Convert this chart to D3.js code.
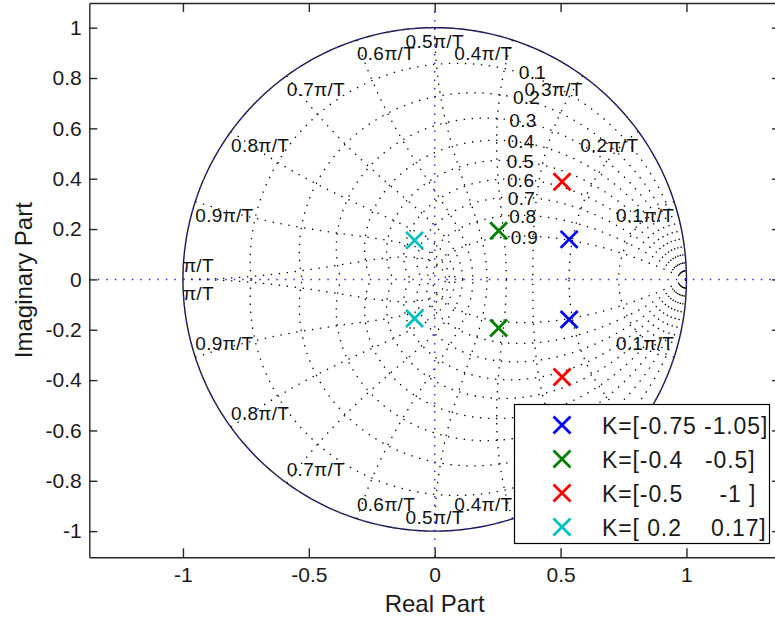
<!DOCTYPE html>
<html lang="en">
<head>
    <meta charset="UTF-8">
    <title>Root locus poles with zgrid</title>
    <script type="text/javascript" src="https://d3js.org/d3.v7.min.js"></script>
    <style>
        body { margin: 0; background: #fff; }
        svg { display: block; font-family: "Liberation Sans", Arial, sans-serif; }
        .lbl { white-space: pre; }
    </style>
</head>
<body>
    <div id="chart"></div>

    <script>
        // zgrid values
        const zetaValues = [0.1, 0.2, 0.3, 0.4, 0.5, 0.6, 0.7, 0.8, 0.9];
        const zetaLabels = ["0.1", "0.2", "0.3", "0.4", "0.5", "0.6", "0.7", "0.8", "0.9"];
        const wnFactors = [0.1, 0.2, 0.3, 0.4, 0.5, 0.6, 0.7, 0.8, 0.9, 1.0]; // times pi/T
        const wnLabels = ["0.1\u03c0/T", "0.2\u03c0/T", "0.3\u03c0/T", "0.4\u03c0/T", "0.5\u03c0/T",
                          "0.6\u03c0/T", "0.7\u03c0/T", "0.8\u03c0/T", "0.9\u03c0/T", "\u03c0/T"];

        // closed loop poles (conjugate pairs, re +/- j*im)
        const gainLabels = ["K=[-0.75 -1.05]", "K=[-0.4   -0.5]", "K=[-0.5     -1 ]", "K=[ 0.2    0.17]"];
        const poleColors = ["#0000ff", "#008000", "#ff0000", "#00bfbf"];
        const poleRe = [0.534, 0.254, 0.506, -0.080];
        const poleIm = [0.159, 0.193, 0.388, 0.155];

        const xTicks = [-1, -0.5, 0, 0.5, 1];
        const yTicks = [-1, -0.8, -0.6, -0.4, -0.2, 0, 0.2, 0.4, 0.6, 0.8, 1];

        const svgWidth = 775;
        const svgHeight = 625;
        const plotLeft = 89.3, plotRight = 780.1, plotTop = 3, plotBottom = 557.3;

        const svg = d3.select("#chart")
            .append("svg")
            .attr("width", svgWidth)
            .attr("height", svgHeight);

        const x = d3.scaleLinear().domain([-1.372, 1.372]).range([plotLeft, plotRight]);
        const y = d3.scaleLinear().domain([-1.104, 1.098]).range([plotBottom, plotTop]);

        svg.append("clipPath").attr("id", "plotArea")
            .append("rect")
            .attr("x", plotLeft).attr("y", plotTop)
            .attr("width", plotRight - plotLeft).attr("height", plotBottom - plotTop);

        const plot = svg.append("g").attr("clip-path", "url(#plotArea)");

        const line = d3.line().x(d => x(d[0])).y(d => y(d[1]));
        const dotted = "1.4,6.6";

        // damping ratio curves z = exp(-m*wd) * exp(j*wd)
        zetaValues.forEach(function(z) {
            const m = z / Math.sqrt(1 - z * z);
            [1, -1].forEach(function(s) {
                const pts = d3.range(0, 241).map(function(i) {
                    const wd = Math.PI * i / 240;
                    const r = Math.exp(-m * wd);
                    return [r * Math.cos(wd), s * r * Math.sin(wd)];
                });
                plot.append("path")
                    .attr("d", line(pts))
                    .attr("fill", "none")
                    .attr("stroke", "#000")
                    .attr("stroke-width", 1.3)
                    .attr("stroke-dasharray", dotted);
            });
        });

        // natural frequency curves
        wnFactors.forEach(function(f) {
            const wn = f * Math.PI;
            [1, -1].forEach(function(s) {
                const pts = d3.range(0, 121).map(function(i) {
                    const z = i / 120;
                    const r = Math.exp(-z * wn);
                    const a = wn * Math.sqrt(1 - z * z);
                    return [r * Math.cos(a), s * r * Math.sin(a)];
                });
                plot.append("path")
                    .attr("d", line(pts))
                    .attr("fill", "none")
                    .attr("stroke", "#000")
                    .attr("stroke-width", 1.3)
                    .attr("stroke-dasharray", dotted);
            });
        });

        // unit circle: solid from zgrid, blue dotted from pzmap on top
        const circlePts = d3.range(0, 361).map(i => [Math.cos(i * Math.PI / 180), Math.sin(i * Math.PI / 180)]);
        plot.append("path")
            .attr("d", line(circlePts))
            .attr("fill", "none")
            .attr("stroke", "#1a1a33")
            .attr("stroke-width", 1.4);
        plot.append("path")
            .attr("d", line(circlePts))
            .attr("fill", "none")
            .attr("stroke", "#3a3aff")
            .attr("stroke-width", 1.4)
            .attr("stroke-dasharray", dotted);

        // real / imaginary axes
        plot.append("line")
            .attr("x1", plotLeft).attr("x2", plotRight)
            .attr("y1", y(0)).attr("y2", y(0))
            .attr("stroke", "#2b2bff").attr("stroke-width", 1.5)
            .attr("stroke-dasharray", "1.5,7");
        plot.append("line")
            .attr("x1", x(0)).attr("x2", x(0))
            .attr("y1", plotTop).attr("y2", plotBottom)
            .attr("stroke", "#2b2bff").attr("stroke-width", 1.5)
            .attr("stroke-dasharray", "1.5,7");

        // wn labels on the unit circle
        const labelG = svg.append("g").attr("font-size", "19px").attr("fill", "#111")
            .attr("letter-spacing", "0.3px");
        wnFactors.forEach(function(f, i) {
            const a = f * Math.PI;
            [1, -1].forEach(function(s) {
                const px = x(Math.cos(a));
                const py = y(s * Math.sin(a));
                labelG.append("text")
                    .attr("class", "lbl")
                    .attr("x", px)
                    .attr("y", py + (s > 0 ? 20.5 : -7.5))
                    .attr("text-anchor", f < 0.5 ? "end" : (f === 0.5 ? "middle" : "start"))
                    .text(wnLabels[i]);
            });
        });

        // damping labels, upper half only
        zetaValues.forEach(function(z, i) {
            const wn = 1.2;
            const wd = wn * Math.sqrt(1 - z * z);
            const r = Math.exp(-z * wn);
            labelG.append("text")
                .attr("x", x(r * Math.cos(wd)) + 2)
                .attr("y", y(r * Math.sin(wd)) + 7.5)
                .text(zetaLabels[i]);
        });

        // poles
        const cross = "M-8.5,-8.5L8.5,8.5M-8.5,8.5L8.5,-8.5";
        const poles = [];
        poleRe.forEach(function(re, i) {
            poles.push({ re: re, im: poleIm[i], c: poleColors[i] });
            poles.push({ re: re, im: -poleIm[i], c: poleColors[i] });
        });
        svg.append("g").selectAll("path")
            .data(poles)
            .enter()
            .append("path")
            .attr("d", cross)
            .attr("transform", d => "translate(" + x(d.re) + "," + y(d.im) + ")")
            .attr("fill", "none")
            .attr("stroke", d => d.c)
            .attr("stroke-width", 2.8);

        // axes box with inward ticks
        const fmt = d => String(+d.toFixed(1));
        const axisFont = function(g, size) {
            g.attr("font-family", null).attr("font-size", size);
            g.selectAll("path.domain").attr("stroke", "#262626").attr("stroke-width", 1.4);
            g.selectAll(".tick line").attr("stroke", "#262626").attr("stroke-width", 1.4);
            g.selectAll("text").attr("fill", "#1a1a1a");
        };

        svg.append("g")
            .attr("transform", "translate(0," + plotBottom + ")")
            .call(d3.axisBottom(x).tickValues(xTicks).tickFormat(fmt).tickSizeInner(-9).tickSizeOuter(0).tickPadding(10))
            .call(g => axisFont(g, "21px"));
        svg.append("g")
            .attr("transform", "translate(0," + plotTop + ")")
            .call(d3.axisTop(x).tickValues(xTicks).tickFormat("").tickSizeInner(-9).tickSizeOuter(0))
            .call(g => axisFont(g, "21px"));
        svg.append("g")
            .attr("transform", "translate(" + plotLeft + ",0)")
            .call(d3.axisLeft(y).tickValues(yTicks).tickFormat(fmt).tickSizeInner(-8).tickSizeOuter(0).tickPadding(7.6))
            .call(g => axisFont(g, "21px"));
        svg.append("g")
            .attr("transform", "translate(" + plotRight + ",0)")
            .call(d3.axisRight(y).tickValues(yTicks).tickFormat("").tickSizeInner(-8).tickSizeOuter(0))
            .call(g => axisFont(g, "21px"));

        // axis titles
        svg.append("text")
            .attr("x", x(0))
            .attr("y", 612)
            .attr("text-anchor", "middle")
            .attr("font-size", "24px")
            .attr("fill", "#1a1a1a")
            .text("Real Part");
        svg.append("text")
            .attr("transform", "translate(32," + ((plotTop + plotBottom) / 2) + ") rotate(-90)")
            .attr("text-anchor", "middle")
            .attr("font-size", "24px")
            .attr("fill", "#1a1a1a")
            .text("Imaginary Part");

        // legend
        const legend = svg.append("g");
        legend.append("rect")
            .attr("x", 514.5).attr("y", 404.5)
            .attr("width", 255).attr("height", 139)
            .attr("fill", "#fff")
            .attr("stroke", "#000")
            .attr("stroke-width", 1.2);
        gainLabels.forEach(function(label, i) {
            const cy = 425 + i * 34;
            legend.append("path")
                .attr("d", cross)
                .attr("transform", "translate(562," + cy + ")")
                .attr("fill", "none")
                .attr("stroke", poleColors[i])
                .attr("stroke-width", 2.8);
            legend.append("text")
                .attr("class", "lbl")
                .attr("x", 602)
                .attr("y", cy + 8.5)
                .attr("font-size", "23px")
                .attr("letter-spacing", "0.9px")
                .attr("fill", "#1a1a1a")
                .text(label);
        });
    </script>
</body>
</html>
